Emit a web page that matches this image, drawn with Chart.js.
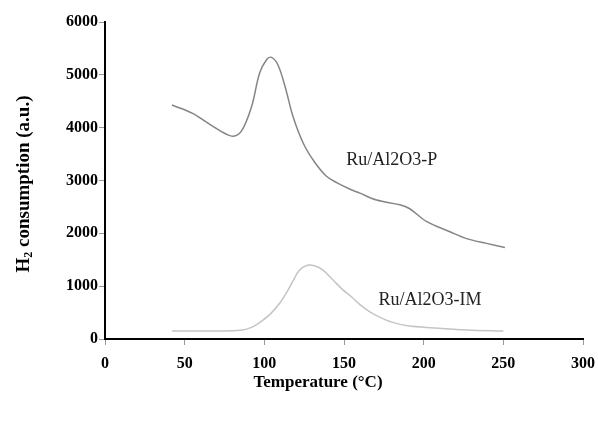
<!DOCTYPE html>
<html>
<head>
<meta charset="utf-8">
<script src="https://cdn.jsdelivr.net/npm/chart.js@4/dist/chart.umd.min.js"></script>
<style>
  html, body { margin: 0; padding: 0; background: #fff; }
  #wrap { width: 598px; height: 421px; }
</style>
</head>
<body>
<div id="wrap"><canvas id="myChart" width="598" height="421"></canvas></div>
<script>
// data
var pTemp = [42, 55, 68, 79.5, 85.5, 92, 97, 101.5, 104.5, 108.5, 113, 118, 124.5, 131.5, 139, 146, 153.5, 160, 170.5, 185, 191, 202, 216.5, 227, 239.5, 251];
var pVal  = [4430, 4270, 4020, 3840, 3930, 4400, 5030, 5290, 5330, 5190, 4780, 4210, 3700, 3350, 3080, 2950, 2840, 2760, 2630, 2540, 2470, 2220, 2030, 1900, 1810, 1730];

var imTemp = [42, 70, 85, 92, 97, 104, 110, 114, 118, 122, 127, 132, 137, 143, 149, 155, 160, 166, 172, 180, 190, 206, 227, 250];
var imVal  = [150, 152, 165, 220, 310, 480, 690, 880, 1100, 1300, 1395, 1380, 1300, 1120, 940, 790, 650, 520, 420, 320, 250, 210, 170, 150];

var xTicks = [0, 50, 100, 150, 200, 250, 300];
var yTicks = [0, 1000, 2000, 3000, 4000, 5000, 6000];

var seriesNames = ['Ru/Al2O3-P', 'Ru/Al2O3-IM'];
var labelPos = [[180, 3390], [204, 740]];

function pts(xs, ys) {
    var out = [];
    for (var i = 0; i < xs.length; i++) out.push({ x: xs[i], y: ys[i] });
    return out;
}

var serif = '"Liberation Serif", serif';

// curve labels + axis titles
var extraText = {
    id: 'extraText',
    afterDraw: function(chart) {
        var ctx = chart.ctx;
        var xs = chart.scales.x, ys = chart.scales.y;
        ctx.save();
        ctx.font = '18px ' + serif;
        ctx.fillStyle = '#222';
        ctx.textAlign = 'center';
        ctx.textBaseline = 'middle';
        for (var i = 0; i < seriesNames.length; i++) {
            ctx.fillText(seriesNames[i], xs.getPixelForValue(labelPos[i][0]), ys.getPixelForValue(labelPos[i][1]));
        }

        // x title
        ctx.fillStyle = '#000';
        ctx.font = 'bold 17px ' + serif;
        ctx.fillText('Temperature (°C)', 318, 383);

        // y title with subscript
        ctx.translate(24, 184);
        ctx.rotate(-Math.PI / 2);
        var big = 'bold 19px ' + serif, small = 'bold 12px ' + serif;
        var p1 = 'H', p2 = '2', p3 = ' consumption (a.u.)';
        ctx.font = big; var w1 = ctx.measureText(p1).width, w3 = ctx.measureText(p3).width;
        ctx.font = small; var w2 = ctx.measureText(p2).width;
        var x0 = -(w1 + w2 + w3) / 2;
        ctx.textAlign = 'left';
        ctx.font = big; ctx.fillText(p1, x0, 0);
        ctx.font = small; ctx.fillText(p2, x0 + w1, 5);
        ctx.font = big; ctx.fillText(p3, x0 + w1 + w2, 0);
        ctx.restore();
    }
};

var tickFont = { family: serif, size: 16, weight: 'bold' };

new Chart(document.getElementById('myChart').getContext('2d'), {
    type: 'line',
    data: {
        datasets: [{
            label: seriesNames[0],
            data: pts(pTemp, pVal),
            borderColor: '#858585',
            borderWidth: 1.5,
            pointRadius: 0,
            tension: 0.35,
            fill: false
        }, {
            label: seriesNames[1],
            data: pts(imTemp, imVal),
            borderColor: '#c4c4c4',
            borderWidth: 1.5,
            pointRadius: 0,
            tension: 0.35,
            fill: false
        }]
    },
    options: {
        responsive: false,
        animation: false,
        layout: { padding: { left: 13, right: 15, top: 22, bottom: 29 } },
        plugins: {
            legend: { display: false },
            tooltip: { enabled: false }
        },
        scales: {
            x: {
                type: 'linear',
                min: 0,
                max: 300,
                afterBuildTicks: function(scale) {
                    scale.ticks = xTicks.map(function(v) { return { value: v }; });
                },
                afterFit: function(scale) {
                    scale.height = 53;
                    scale.paddingLeft = 0;
                    scale.paddingRight = 0;
                },
                grid: { drawOnChartArea: false, tickLength: 6, color: '#999' },
                border: { color: '#000', width: 2 },
                ticks: { color: '#000', font: tickFont, padding: 9, maxRotation: 0,
                    callback: function(v) { return String(v); } }
            },
            y: {
                min: 0,
                max: 6000,
                afterBuildTicks: function(scale) {
                    scale.ticks = yTicks.map(function(v) { return { value: v }; });
                },
                afterFit: function(scale) { scale.width = 92; },
                grid: { drawOnChartArea: false, tickLength: 6, color: '#999' },
                border: { color: '#000', width: 2 },
                ticks: { color: '#000', font: tickFont, padding: 1,
                    callback: function(v) { return String(v); } }
            }
        }
    },
    plugins: [extraText]
});
</script>
</body>
</html>
